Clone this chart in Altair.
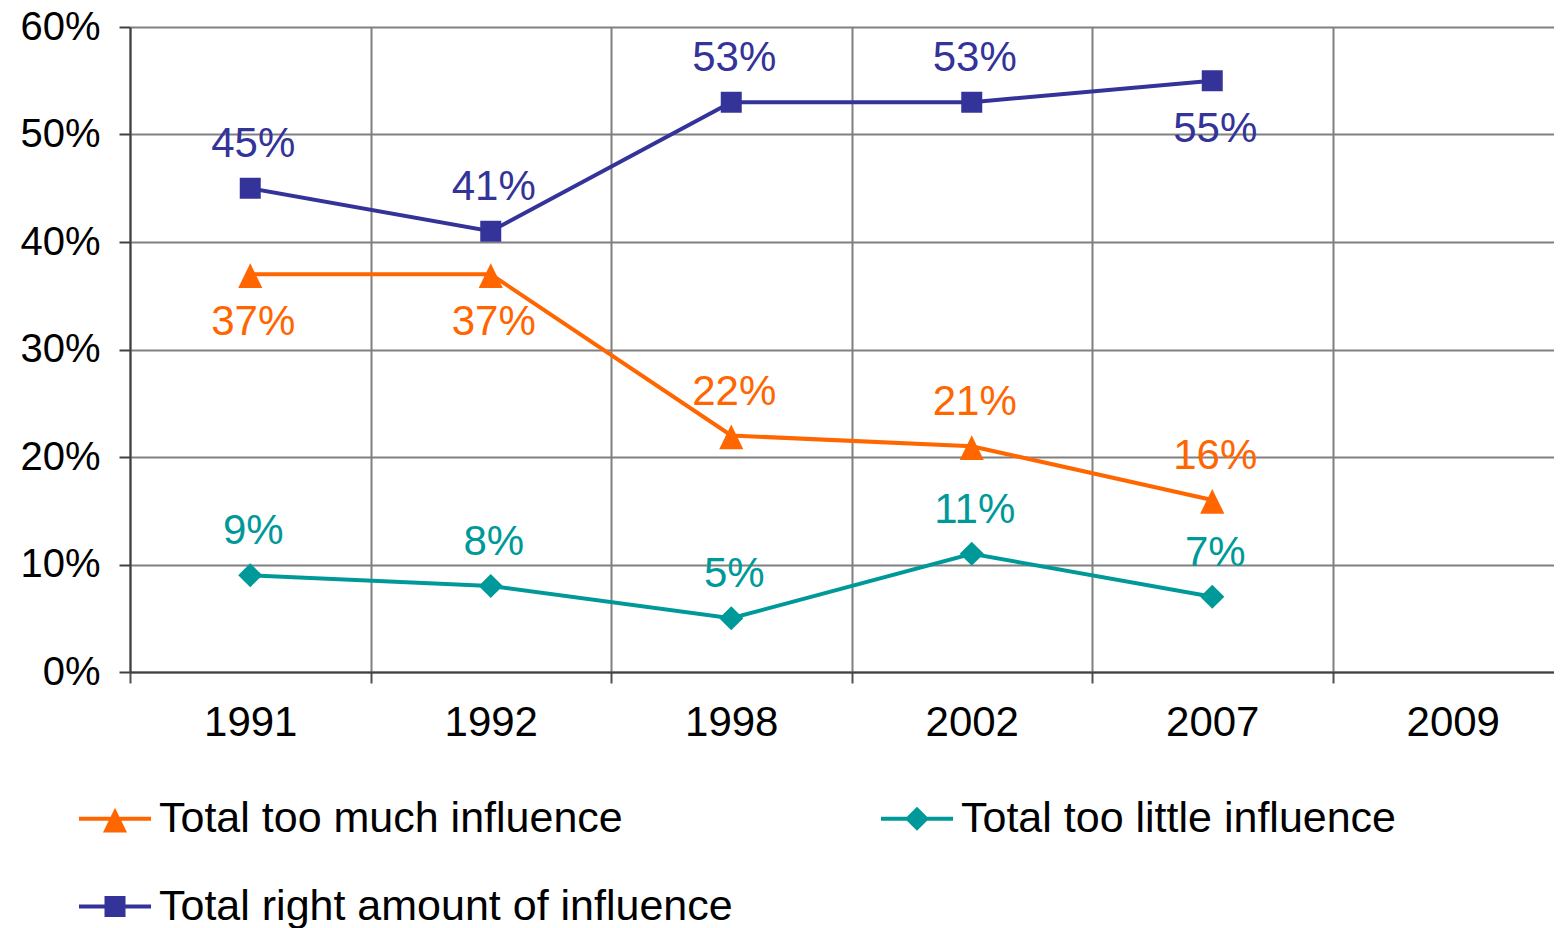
import altair as alt
import pandas as pd

# ---- data ----
years = ["1991", "1992", "1998", "2002", "2007", "2009"]
series_names = [
    "Total too much influence",
    "Total too little influence",
    "Total right amount of influence",
]
too_much = [0.37, 0.37, 0.22, 0.21, 0.16]
too_little = [0.09, 0.08, 0.05, 0.11, 0.07]
right_amount = [0.45, 0.41, 0.53, 0.53, 0.55]
y_ticks = [0.0, 0.1, 0.2, 0.3, 0.4, 0.5, 0.6]
colors = ["#FF6600", "#009999", "#333399"]

rows = []
for name, vals in zip(series_names, [too_much, too_little, right_amount]):
    for yr, v in zip(years, vals):
        rows.append({"year": yr, "series": name, "value": v})
df = pd.DataFrame(rows)

FONT = "Liberation Sans"

# marker shapes (unit space, scaled by sqrt(size)/2)
tri = "M0,-1.05L1.15,1.3L-1.15,1.3Z"
dia = "M0,-1.15L1.15,0L0,1.15L-1.15,0Z"
sq = "M-1,-1H1V1H-1Z"
bar = "M-3.43,-0.2H3.43V0.2H-3.43Z"
point_shapes = [tri, dia, sq]
legend_shapes = [bar + s for s in point_shapes]

color_scale = alt.Scale(domain=series_names, range=colors)

x_enc = alt.X(
    "year:N",
    scale=alt.Scale(type="band", domain=years, paddingInner=0, paddingOuter=0),
    axis=alt.Axis(
        title=None,
        tickBand="extent",
        grid=True,
        gridColor="#808080",
        gridWidth=2,
        domainColor="#404040",
        domainWidth=2,
        tickColor="#505050",
        tickWidth=2,
        tickSize=11,
        labelFontSize=42,
        labelFont=FONT,
        labelColor="black",
        labelPadding=19,
        labelAngle=0,
    ),
)
y_enc = alt.Y(
    "value:Q",
    scale=alt.Scale(domain=[0, 0.6]),
    axis=alt.Axis(
        title=None,
        values=y_ticks,
        format=".0%",
        grid=True,
        gridColor="#808080",
        gridWidth=2,
        domainColor="#404040",
        domainWidth=2,
        tickColor="#404040",
        tickWidth=2,
        tickSize=11,
        labelFontSize=40,
        labelFont=FONT,
        labelColor="black",
        labelPadding=19,
    ),
)

base = alt.Chart(df)
col_nolegend = alt.Color("series:N", scale=color_scale, legend=None)

leg = alt.Legend(
    title=None,
    orient="none",
    legendX=-36.5,
    legendY=770,
    direction="horizontal",
    columns=2,
    columnPadding=147,
    rowPadding=44,
    labelFontSize=43,
    labelFont=FONT,
    labelColor="black",
    labelLimit=2000,
    labelOffset=22.5,
    symbolOffset=0,
    symbolSize=441,
    symbolStrokeWidth=0,
)

# layer that only carries the legend (line + marker symbols); draws nothing
legend_layer = (
    base.transform_filter("false")
    .mark_point(filled=True, opacity=1, size=441, strokeWidth=0)
    .encode(
        x=x_enc,
        y=y_enc,
        color=alt.Color("series:N", scale=color_scale, legend=leg),
        shape=alt.Shape("series:N", scale=alt.Scale(domain=series_names, range=legend_shapes), legend=leg),
    )
)

lines = base.mark_line(strokeWidth=4).encode(x=x_enc, y=y_enc, color=col_nolegend)

point_layers = []
for name, shp in zip(series_names, point_shapes):
    point_layers.append(
        base.transform_filter(alt.datum.series == name)
        .mark_point(shape=shp, filled=True, opacity=1, size=441, strokeWidth=0)
        .encode(x=x_enc, y=y_enc, color=col_nolegend)
    )

below_expr = (
    "(datum.series == 'Total right amount of influence' && datum.year == '2007') || "
    "(datum.series == 'Total too much influence' && (datum.year == '1991' || datum.year == '1992'))"
)

labels_above = (
    base.transform_filter("!(" + below_expr + ")")
    .mark_text(fontSize=42, font=FONT, baseline="middle", dy=-44, dx=3)
    .encode(x=x_enc, y=y_enc, color=col_nolegend, text=alt.Text("value:Q", format=".0%"))
)
labels_below = (
    base.transform_filter(below_expr)
    .mark_text(fontSize=42, font=FONT, baseline="middle", dy=48, dx=3)
    .encode(x=x_enc, y=y_enc, color=col_nolegend, text=alt.Text("value:Q", format=".0%"))
)

chart = (
    alt.layer(legend_layer, lines, *point_layers, labels_above, labels_below)
    .properties(
        width=1443,
        height=645,
        padding={"left": 122, "top": 19, "right": -19, "bottom": 268},
        autosize=alt.AutoSizeParams(type="none"),
    )
    .configure(font=FONT)
    .configure_view(stroke="transparent")
)

chart.save("out.html", embed_options={"renderer": "svg", "actions": False})
